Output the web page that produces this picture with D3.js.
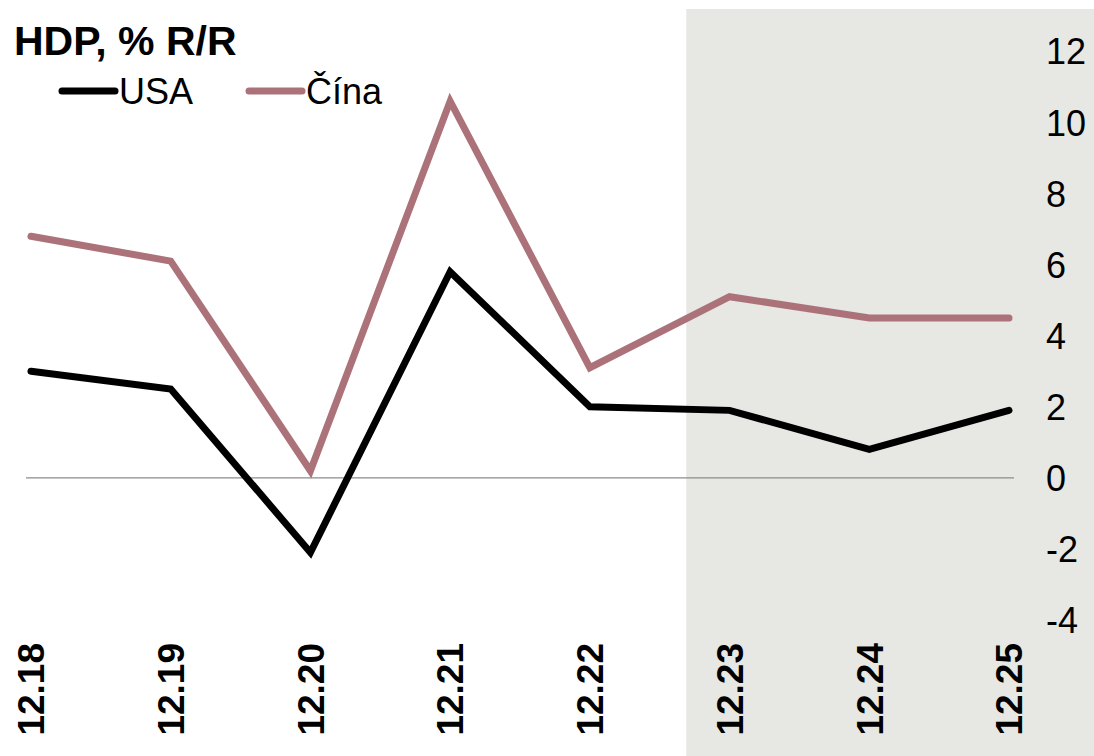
<!DOCTYPE html>
<html>
<head>
<meta charset="utf-8">
<script src="https://cdn.jsdelivr.net/npm/d3@7"></script>
<style>
  body { margin: 0; background: #fff; }
  svg { display: block; font-family: "Liberation Sans", Arial, sans-serif; }
</style>
</head>
<body>
<svg id="thesvg" width="1094" height="756"></svg>
<script>
'use strict';

// data
let periods = ["12.18", "12.19", "12.20", "12.21", "12.22", "12.23", "12.24", "12.25"],
    usa  = [3.0, 2.5, -2.1, 5.8, 2.0, 1.9, 0.8, 1.9],
    cina = [6.8, 6.1, 0.2, 10.6, 3.1, 5.1, 4.5, 4.5],
    yTicks = [12, 10, 8, 6, 4, 2, 0, -2, -4],
    seriesNames = ["USA", "Čína"],
    seriesColors = ["#000000", "#ac727a"];

let forecastFrom = "12.23"; // shaded forecast period

var svg = d3.select("#thesvg"),
    x = d3.scalePoint().domain(periods).range([31, 1009]),
    y = d3.scaleLinear().domain([-4, 12]).range([620, 51.5]);

// shaded forecast background
let step = x.step();
svg.append("rect")
    .attr("x", x(forecastFrom) - 0.31 * step)
    .attr("y", 9)
    .attr("width", 1094 - (x(forecastFrom) - 0.31 * step))
    .attr("height", 756 - 9)
    .attr("fill", "#e7e7e3");

// zero line
svg.append("line")
    .attr("x1", x(periods[0]) - 5)
    .attr("x2", x(periods[periods.length - 1]) + 5)
    .attr("y1", y(0))
    .attr("y2", y(0))
    .attr("stroke", "#8c8c8c")
    .attr("stroke-width", 1.3);

// right y axis labels
svg.append("g")
    .attr("class", "axis axis--y")
    .selectAll("text")
    .data(yTicks)
  .enter().append("text")
    .attr("x", 1046)
    .attr("y", function(d) { return y(d); })
    .attr("dy", "0.36em")
    .style("font-size", "36px")
    .style("fill", "#000")
    .text(function(d) { return d; });

// x axis labels, rotated
svg.append("g")
    .attr("class", "axis axis--x")
    .selectAll("text")
    .data(periods)
  .enter().append("text")
    .attr("transform", function(d) { return "translate(" + x(d) + ",643) rotate(-90)"; })
    .attr("text-anchor", "end")
    .attr("dy", "0.36em")
    .style("font-size", "37px")
    .style("font-weight", "bold")
    .style("fill", "#000")
    .text(function(d) { return d; });

// lines
let line = d3.line()
    .x(function(d, i) { return x(periods[i]); })
    .y(function(d) { return y(d); });

[usa, cina].forEach(function(s, i) {
  svg.append("path")
      .datum(s)
      .attr("d", line)
      .attr("fill", "none")
      .attr("stroke", seriesColors[i])
      .attr("stroke-width", 7)
      .attr("stroke-linejoin", "miter")
      .attr("stroke-linecap", "round");
});

// title
svg.append("text")
    .attr("x", 14)
    .attr("y", 55)
    .style("font-size", "41px")
    .style("font-weight", "bold")
    .style("fill", "#000")
    .text("HDP, % R/R");

// legend
let legendX = [62, 249];
seriesNames.forEach(function(name, i) {
  let g = svg.append("g").attr("transform", "translate(" + legendX[i] + ",91)");
  g.append("line")
      .attr("x1", 0).attr("x2", 53)
      .attr("y1", 0).attr("y2", 0)
      .attr("stroke", seriesColors[i])
      .attr("stroke-width", 7)
      .attr("stroke-linecap", "round");
  g.append("text")
      .attr("x", 57)
      .attr("y", 12.5)
      .style("font-size", "36px")
      .style("fill", "#000")
      .text(name);
});
</script>
</body>
</html>
